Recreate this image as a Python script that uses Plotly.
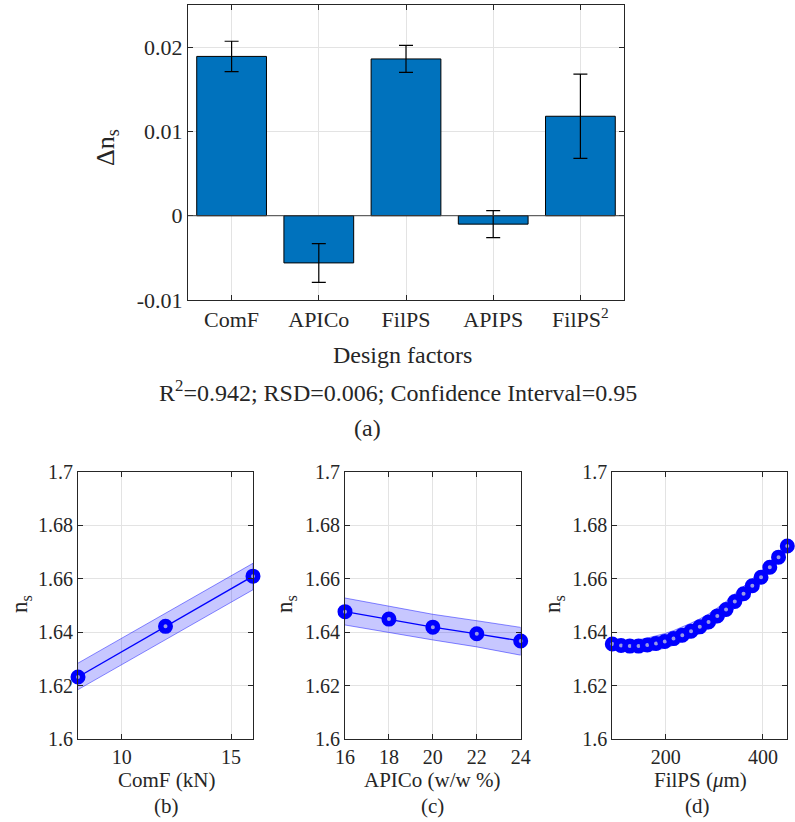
import plotly.graph_objects as go

W, H = 795, 822
FONT = "Liberation Serif"
TXT = "#262626"

# ---------------- data: (a) effects of design factors ----------------
factors = ["ComF", "APICo", "FilPS", "APIPS", "FilPS<sup>2</sup>"]
effects = [0.0189, -0.0056, 0.0186, -0.0010, 0.0118]
effect_err = [0.0018, 0.0023, 0.0016, 0.0016, 0.0050]
eff_ticks = [-0.01, 0, 0.01, 0.02]
eff_ticktext = ["-0.01", "0", "0.01", "0.02"]

# ---------------- data: (b) ComF ----------------
comf_x = [8, 12, 16]
comf_ns = [1.6232, 1.6422, 1.6610]
comf_hi = [1.6284, 1.6470, 1.6658]
comf_lo = [1.6185, 1.6373, 1.6559]

# ---------------- data: (c) APICo ----------------
apico_x = [16, 18, 20, 22, 24]
apico_ns = [1.6477, 1.6449, 1.6419, 1.6394, 1.6367]
apico_hi = [1.6528, 1.6498, 1.6467, 1.6443, 1.6418]
apico_lo = [1.6427, 1.6400, 1.6371, 1.6345, 1.6314]

# ---------------- data: (d) FilPS ----------------
filps_x = [90, 108, 126, 144, 162, 180, 198, 216, 234, 252, 270,
           288, 306, 324, 342, 360, 378, 396, 414, 432, 450]
filps_ns = [1.6356, 1.6350, 1.6348, 1.6348, 1.6352, 1.6358, 1.6365, 1.6376,
            1.6389, 1.6404, 1.6420, 1.6438, 1.6461, 1.6485, 1.6515, 1.6544,
            1.6574, 1.6606, 1.6643, 1.6681, 1.6723]
filps_hi = [1.6376, 1.6371, 1.6370, 1.6372, 1.6378, 1.6386, 1.6395, 1.6406,
            1.6419, 1.6434, 1.6450, 1.6468, 1.6491, 1.6515, 1.6544, 1.6571,
            1.6598, 1.6627, 1.6662, 1.6699, 1.6741]
filps_lo = [1.6336, 1.6330, 1.6327, 1.6326, 1.6328, 1.6333, 1.6340, 1.6351,
            1.6364, 1.6379, 1.6395, 1.6413, 1.6436, 1.6460, 1.6490, 1.6520,
            1.6551, 1.6584, 1.6623, 1.6662, 1.6705]

ns_ticks = [1.6, 1.62, 1.64, 1.66, 1.68, 1.7]
ns_ticktext = ["1.6", "1.62", "1.64", "1.66", "1.68", "1.7"]

fig = go.Figure()

# (a) bar chart with error bars
fig.add_trace(go.Bar(
    x=list(range(len(factors))), y=effects, width=0.8,
    marker=dict(color="#0072BD", line=dict(color="black", width=1)),
    error_y=dict(type="data", array=effect_err, color="black",
                 thickness=1.2, width=7),
    xaxis="x", yaxis="y", showlegend=False,
))


def response_traces(xs, ys, hi, lo, xa, ya):
    band = go.Scatter(
        x=xs + xs[::-1], y=hi + lo[::-1], fill="toself",
        fillcolor="rgba(0,0,255,0.22)", mode="lines",
        line=dict(color="rgba(0,0,255,0.45)", width=1),
        xaxis=xa, yaxis=ya, showlegend=False, hoverinfo="skip",
    )
    curve = go.Scatter(
        x=xs, y=ys, mode="lines+markers",
        line=dict(color="#0000FF", width=1.3),
        marker=dict(symbol="circle", size=9.5, color="#9a9ae8",
                    line=dict(width=5.5, color="#0000FF")),
        cliponaxis=False, xaxis=xa, yaxis=ya, showlegend=False,
    )
    return [band, curve]


for t in response_traces(comf_x, comf_ns, comf_hi, comf_lo, "x2", "y2"):
    fig.add_trace(t)
for t in response_traces(apico_x, apico_ns, apico_hi, apico_lo, "x3", "y3"):
    fig.add_trace(t)
for t in response_traces(filps_x, filps_ns, filps_hi, filps_lo, "x4", "y4"):
    fig.add_trace(t)


def axis(domain, rng, tickvals, ticktext=None, size=20, anchor=None):
    d = dict(domain=domain, range=rng, tickvals=tickvals,
             ticks="inside", ticklen=5, tickcolor=TXT, tickwidth=1,
             showline=True, linecolor=TXT, linewidth=1, mirror="allticks",
             showgrid=True, gridcolor="#e3e3e3", gridwidth=1,
             zeroline=False, automargin=False,
             tickfont=dict(family=FONT, size=size, color=TXT),
             fixedrange=True)
    if ticktext is not None:
        d["ticktext"] = ticktext
    if anchor:
        d["anchor"] = anchor
    return d


def px(x):
    return x / W


def py(y):
    return 1 - y / H


ybot = [py(739), py(472)]

layout = dict(
    width=W, height=H, margin=dict(l=0, r=0, t=0, b=0, autoexpand=False),
    paper_bgcolor="white", plot_bgcolor="white",
    font=dict(family=FONT, color=TXT),
    bargap=0.2,
    xaxis=axis([px(188), px(624)], [-0.5, 4.5], list(range(5)), factors,
               size=22, anchor="y"),
    yaxis=axis([py(300), py(5)], [-0.01, 0.025], eff_ticks, eff_ticktext,
               size=22, anchor="x"),
    xaxis2=axis([px(78), px(253)], [8, 16], [10, 15], ["10", "15"], anchor="y2"),
    yaxis2=axis(ybot, [1.6, 1.7], ns_ticks, ns_ticktext, anchor="x2"),
    xaxis3=axis([px(345), px(520.7)], [16, 24], [16, 18, 20, 22, 24],
                ["16", "18", "20", "22", "24"], anchor="y3"),
    yaxis3=axis(ybot, [1.6, 1.7], ns_ticks, ns_ticktext, anchor="x3"),
    xaxis4=axis([px(612.3), px(787.3)], [90, 450], [200, 400], ["200", "400"],
                anchor="y4"),
    yaxis4=axis(ybot, [1.6, 1.7], ns_ticks, ns_ticktext, anchor="x4"),
)
fig.update_layout(**layout)

# bar baseline at zero
fig.add_shape(type="line", xref="x", yref="y", x0=-0.5, x1=4.5, y0=0, y1=0,
              line=dict(color="#404040", width=1), layer="above")


def ann(text, x, y, size, angle=0):
    fig.add_annotation(text=text, x=px(x), y=py(y), xref="paper", yref="paper",
                       xanchor="center", yanchor="middle", showarrow=False,
                       textangle=angle,
                       font=dict(family=FONT, size=size, color=TXT))


ann("Design factors", 402, 355, 24)
ann("R<sup>2</sup>=0.942; RSD=0.006; Confidence Interval=0.95", 398, 391, 24)
ann("(a)", 367, 428, 24)
ann("Δn<sub>s</sub>", 107, 148, 26, -90)

ann("ComF (kN)", 166.7, 780, 21)
ann("(b)", 166.7, 806, 21)
ann("n<sub>s</sub>", 21, 604, 23, -90)

ann("APICo (w/w %)", 432.5, 780, 21)
ann("(c)", 432.5, 806, 21)
ann("n<sub>s</sub>", 286, 604, 23, -90)

ann("FilPS (<i>μ</i>m)", 700, 780, 21)
ann("(d)", 697.5, 806, 21)
ann("n<sub>s</sub>", 554, 604, 23, -90)

fig.write_html(
    "out.html",
    config={"displayModeBar": False},
    post_script=("document.body.style.margin='0';"
                 "document.body.style.padding='0';"
                 "document.body.style.overflow='hidden';"),
)
